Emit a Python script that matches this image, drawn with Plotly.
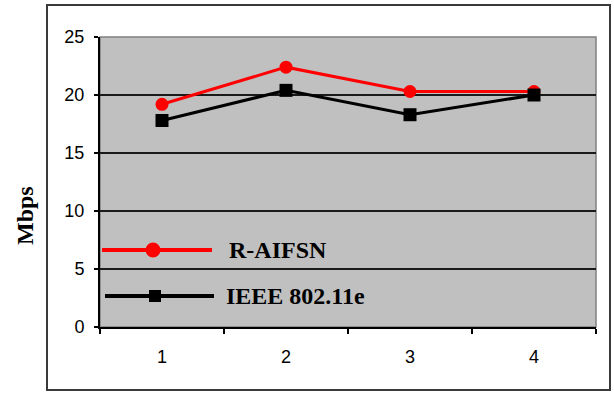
import plotly.graph_objects as go

# Throughput per scenario (Mbps)
scenarios = ["1", "2", "3", "4"]
r_aifsn = [19.2, 22.4, 20.3, 20.3]
ieee_80211e = [17.8, 20.4, 18.3, 20.0]
series_names = ["R-AIFSN", "IEEE 802.11e"]
y_ticks = [0, 5, 10, 15, 20, 25]

PLOT_W, PLOT_H = 496, 290  # plot area size in px


def px_x(px):
    return px / PLOT_W


def px_y(px):
    return px / PLOT_H


fig = go.Figure()
fig.add_trace(go.Scatter(
    x=scenarios, y=r_aifsn, name=series_names[0], mode="lines+markers",
    line=dict(color="#FF0000", width=3),
    marker=dict(symbol="circle", size=13, color="#FF0000"),
))
fig.add_trace(go.Scatter(
    x=scenarios, y=ieee_80211e, name=series_names[1], mode="lines+markers",
    line=dict(color="#000000", width=3),
    marker=dict(symbol="square", size=13, color="#000000"),
))

shapes = []
# outer chart frame
shapes.append(dict(type="rect", xref="paper", yref="paper",
                   x0=px_x(-53), x1=px_x(510), y0=px_y(-63), y1=px_y(322),
                   line=dict(color="#3a3a3a", width=2), fillcolor="rgba(0,0,0,0)",
                   layer="below"))
# plot-area border (top / right)
shapes.append(dict(type="rect", xref="paper", yref="paper", x0=0, x1=1, y0=0, y1=1,
                   line=dict(color="#808080", width=1.5), layer="below"))

# legend samples drawn inside the plot area
leg = [
    dict(y=px_y(77), x0=px_x(2), x1=px_x(112), xm=px_x(53), color="#FF0000", kind="circle", size=15),
    dict(y=px_y(31), x0=px_x(5), x1=px_x(114), xm=px_x(55), color="#000000", kind="rect", size=12),
]
for item in leg:
    shapes.append(dict(type="line", xref="paper", yref="paper",
                       x0=item["x0"], x1=item["x1"], y0=item["y"], y1=item["y"],
                       line=dict(color=item["color"], width=4)))
    h = item["size"] / 2
    shapes.append(dict(type=item["kind"], xref="paper", yref="paper",
                       xsizemode="pixel", ysizemode="pixel",
                       xanchor=item["xm"], yanchor=item["y"],
                       x0=-h, x1=h, y0=-h, y1=h,
                       fillcolor=item["color"], line=dict(color=item["color"], width=0)))

annotations = [
    dict(text="<b>R-AIFSN</b>", xref="paper", yref="paper", x=px_x(127), y=px_y(77),
         xanchor="left", yanchor="middle", showarrow=False,
         font=dict(family="Liberation Serif", size=24, color="#000000")),
    dict(text="<b>IEEE 802.11e</b>", xref="paper", yref="paper", x=px_x(124), y=px_y(31),
         xanchor="left", yanchor="middle", showarrow=False,
         font=dict(family="Liberation Serif", size=24, color="#000000")),
    dict(text="<b>Mbps</b>", xref="paper", yref="paper", x=px_x(-75), y=px_y(111),
         xanchor="center", yanchor="middle", textangle=-90, showarrow=False,
         font=dict(family="Liberation Serif", size=24, color="#000000")),
]

fig.update_layout(
    width=614, height=394,
    margin=dict(l=100, r=18, t=37, b=67),
    paper_bgcolor="#FFFFFF", plot_bgcolor="#C0C0C0",
    showlegend=False,
    shapes=shapes, annotations=annotations,
    xaxis=dict(type="category", range=[-0.5, 3.5], tickson="boundaries",
               ticks="outside", ticklen=5, tickwidth=1.5, tickcolor="#000000",
               showline=True, linecolor="#000000", linewidth=2,
               showgrid=False, zeroline=False, ticklabelstandoff=12,
               tickfont=dict(family="Liberation Sans", size=18, color="#000000")),
    yaxis=dict(range=[0, 25], tickvals=y_ticks,
               ticks="outside", ticklen=4, tickwidth=1.5, tickcolor="#000000",
               showline=True, linecolor="#000000", linewidth=2,
               showgrid=True, gridcolor="#1a1a1a", gridwidth=1.5, zeroline=False,
               ticklabelstandoff=6,
               tickfont=dict(family="Liberation Sans", size=18, color="#000000")),
)

fig.write_html("out.html")
